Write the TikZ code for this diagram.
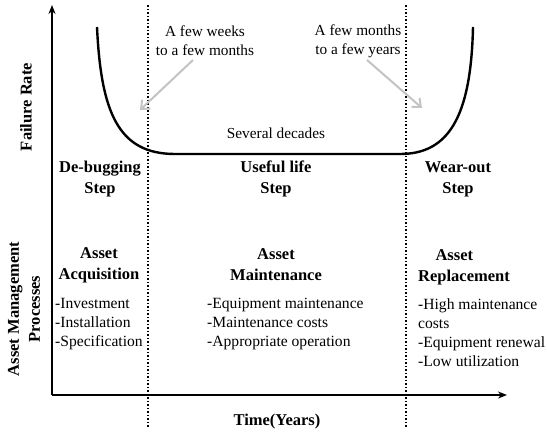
\documentclass[tikz,border=0pt]{standalone}
\usepackage{fontspec}
\setmainfont{Liberation Serif}
\usetikzlibrary{arrows.meta}
\begin{document}
\begin{tikzpicture}[x=1pt,y=-1pt,
  txt/.style={font=\fontsize{15.3}{19}\selectfont, inner sep=0pt, align=center},
  btxt/.style={font=\fontsize{16.5}{21}\selectfont\bfseries, inner sep=0pt, align=center},
  ltxt/.style={font=\fontsize{15.6}{19}\selectfont, inner sep=0pt, align=left, anchor=north west},
  axis/.style={line width=2pt, -{Stealth[length=9pt,width=7pt]}},
  divider/.style={line width=1.5pt, dotted},
  curve/.style={line width=2.4pt},
  pointer/.style={line width=2pt, draw={rgb,255:red,195;green,195;blue,195}, -{Straight Barb[length=7pt,width=12pt,line width=2pt]}}
]
\useasboundingbox (0,0) rectangle (547,434);
% axes
\coordinate (origin) at (52,395);
\coordinate (ytop) at (52,5);
\coordinate (xend) at (507,395);
\draw[axis] (origin) -- (ytop);
\draw[axis] (origin) -- (xend);
% dividers
\coordinate (d1t) at (148,5); \coordinate (d1b) at (148,427);
\coordinate (d2t) at (406,5); \coordinate (d2b) at (406,427);
\draw[divider] (d1t) -- (d1b);
\draw[divider] (d2t) -- (d2b);
% bathtub curve
\coordinate (c0) at (97,27);
\coordinate (c1) at (175,154);
\coordinate (c2) at (400,154);
\coordinate (c3) at (473,27);
\draw[curve] (c0) .. controls (101,112) and (118,154) .. (c1) -- (c2) .. controls (448,154) and (471,118) .. (c3);
% labels
\node[txt] (wk) at (205,41) {A few weeks\\to a few months};
\node[txt] (yr) at (358,41) {A few months\\to a few years};
\coordinate (wkarrow) at (140,110);
\coordinate (yrarrow) at (422,108);
\draw[pointer] (193,60) -- (wkarrow);
\draw[pointer] (367,60) -- (yrarrow);
\node[txt] (dec) at (276,133) {Several decades};
\node[btxt] (s1) at (100,179) {De-bugging\\Step};
\node[btxt] (s2) at (276,179) {Useful life\\Step};
\node[btxt] (s3) at (458,179) {Wear-out\\Step};
\node[btxt, rotate=90] (fr) at (26,107) {Failure Rate};
\node[btxt, rotate=90] (amp) at (24,309) {Asset Management\\Processes};
\node[btxt] (p1) at (99,265) {Asset\\Acquisition};
\node[btxt] (p2) at (276,265) {Asset\\Maintenance};
\node[btxt, align=left, anchor=north west] (p3) at (418,249) {\hspace*{1.05em}Asset\\Replacement};
\node[ltxt] (l1) at (55,298) {-Investment\\-Installation\\-Specification};
\node[ltxt] (l2) at (207,298) {-Equipment maintenance\\-Maintenance costs\\-Appropriate operation};
\node[ltxt] (l3) at (418,298) {-High maintenance\\costs\\-Equipment renewal\\-Low utilization};
\node[btxt] (time) at (277,422) {Time(Years)};
\end{tikzpicture}
\end{document}
